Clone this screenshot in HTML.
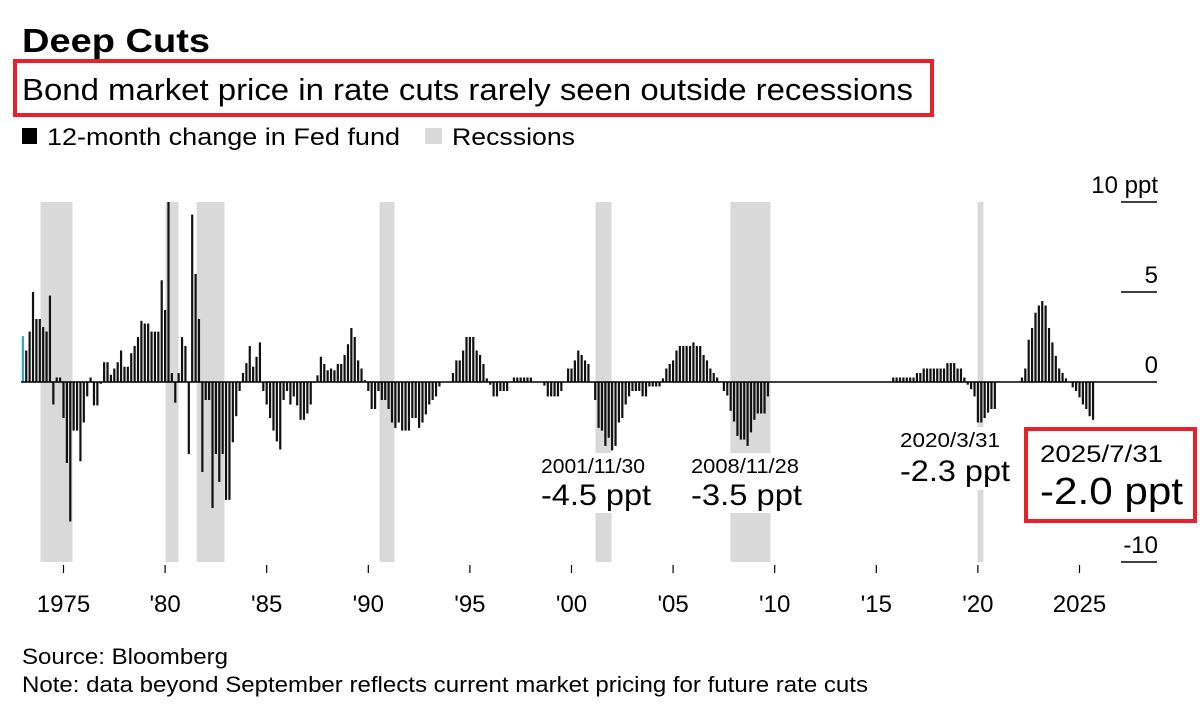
<!DOCTYPE html>
<html><head><meta charset="utf-8">
<style>
html,body{margin:0;padding:0;background:#fff;}
body{width:1200px;height:722px;overflow:hidden;font-family:"Liberation Sans",Arial,sans-serif;}
svg text{font-family:"Liberation Sans",Arial,sans-serif;}
</style></head>
<body>
<svg id="chart" width="1200" height="722" viewBox="0 0 1200 722" xmlns="http://www.w3.org/2000/svg">
  <text x="22" y="52" font-size="33" font-weight="bold" fill="#000" textLength="188" lengthAdjust="spacingAndGlyphs">Deep Cuts</text>
  <rect x="15" y="61" width="917" height="54" fill="none" stroke="#e8202a" stroke-width="4"/>
  <text x="22" y="100" font-size="31" fill="#000" textLength="891" lengthAdjust="spacingAndGlyphs">Bond market price in rate cuts rarely seen outside recessions</text>
  <g>
    <rect x="22" y="128" width="15" height="16" fill="#000"/>
    <text x="47" y="145" font-size="24" fill="#000" textLength="353" lengthAdjust="spacingAndGlyphs">12-month change in Fed fund</text>
    <rect x="425" y="128" width="17" height="16" fill="#d9d9d9"/>
    <text x="452" y="145" font-size="24" fill="#000" textLength="123" lengthAdjust="spacingAndGlyphs">Recssions</text>
  </g>
  <g id="recessions"></g>
  <g id="bars"></g>
  <g id="yaxis"></g>
  <g id="xaxis"></g>
  <g id="annotations"></g>
  <text x="22" y="664" font-size="22" fill="#000" textLength="206" lengthAdjust="spacingAndGlyphs">Source: Bloomberg</text>
  <text x="22" y="692" font-size="22" fill="#000" textLength="846" lengthAdjust="spacingAndGlyphs">Note: data beyond September reflects current market pricing for future rate cuts</text>
</svg>
<script>
// bimonthly observations starting Jan 1973
const startYear = 1973.0;
const stepYears = 1/6;
const fedChange = [
2.55,1.75,2.8,5.0,3.5,3.5,3.05,2.8,4.8,-1.25,
0.25,0.25,-2.0,-4.5,-7.75,-2.7,-2.7,-4.4,-2.25,-0.8,
0.25,-1.3,-1.3,-0.1,1.1,1.1,0.4,0.75,1.1,1.75,
0.85,0.85,1.6,2.0,2.5,3.4,3.25,3.25,2.8,2.8,
2.8,5.65,4.0,10,0.5,-1.15,0.5,2.5,2.0,-4.0,
9.3,6.0,3.5,-5.0,-1.0,-1.0,-7.0,-4.0,-5.55,-4.0,
-6.55,-6.55,-3.35,-1.9,-0.5,0.5,1.05,2.0,0.85,1.4,
2.2,-0.5,-1.25,-2.0,-2.7,-3.3,-3.75,-1.0,-0.5,-1.25,
-0.8,-1.3,-2.1,-2.1,-1.75,-1.25,
-0.05,0.37,1.4,1.0,0.65,0.75,0.65,1.0,1.0,1.5,2.1,3.0,2.5,1.2,0.75,0.1,
-0.5,-1.5,-1.5,-0.5,-1.0,-1.0,-1.5,-2.25,-2.55,-2.25,-2.7,-2.7,-2.7,-2.0,-2.0,-2.55,-2.25,-1.8,-1.25,-1.0,-0.8,-0.25,
0,0,0,0.5,1.2,1.2,1.75,2.5,2.5,2.5,1.75,1.5,1.0,0.2,
-0.15,-0.8,-0.8,-0.5,-0.5,-0.5,0,0.25,0.25,0.25,0.25,0.25,0.25,0,0,0,
-0.2,-0.8,-0.8,-0.8,-0.8,-0.5,0,0.75,0.75,1.2,1.75,1.5,1.2,1.0,0,
-1.0,-2.55,-2.7,-3.55,-3.1,-3.8,-3.55,-2.25,-2.0,-1.25,-0.8,-0.5,-0.5,-0.5,-0.8,-0.8,-0.25,-0.25,-0.25,-0.25,
0.2,0.75,1.0,1.2,1.75,2.0,2.0,2.0,2.0,2.2,2.0,2.0,
1.5,1.2,0.75,0.5,0.25,0,
-0.5,-0.75,-1.6,-2.2,-3.0,-3.2,-3.2,-3.55,-2.8,-2.1,-1.75,-1.75,-1.75,-0.8,
0,0,0,0,0,0,0,0,0,0,0,0,0,0,0,0,0,0,0,0,0,0,0,0,0,0,0,0,0,0,0,0,0,0,0,0,
0.25,0.25,0.25,0.25,0.25,0.25,0.25,
0.5,0.5,0.75,0.75,0.75,0.75,0.75,0.75,0.75,1.05,1.05,1.05,0.75,0.75,0.25,
-0.15,-0.4,-0.8,-2.25,-2.25,-2.0,-1.7,-1.5,-1.5,
0,0,0,0,0,0,0,
0.25,0.75,2.35,3.0,3.85,4.25,4.5,4.25,3.0,2.2,1.45,0.75,0.5,0.2,0,-0.3,-0.5,-0.85,-1.25,-1.5,-1.9,-2.1
];
const recessionStarts = [1973.87,1980.02,1981.55,1990.55,2001.18,2007.82,2019.98];
const recessionEnds   = [1975.44,1980.66,1982.92,1991.29,2001.97,2009.79,2020.27];
const yTickValues = [10,5,0,-10];
const yTickLabels = ["10 ppt","5","0","-10"];
const xTickYears = [1975,1980,1985,1990,1995,2000,2005,2010,2015,2020,2025];
const xTickLabels = ["1975","'80","'85","'90","'95","'00","'05","'10","'15","'20","2025"];

const NS = "http://www.w3.org/2000/svg";
const X0 = 63.5, PXY = 20.32;
function xScale(t){ return X0 + (t-1975)*PXY; }
const Y0 = 382, PPT = 18;
function yScale(v){ return Y0 - v*PPT; }
function mk(tag, attrs, parent){
  const el = document.createElementNS(NS, tag);
  for (const k in attrs) el.setAttribute(k, attrs[k]);
  parent.appendChild(el);
  return el;
}

const recG = document.getElementById('recessions');
for (let i=0;i<recessionStarts.length;i++){
  const x1 = xScale(recessionStarts[i]), x2 = xScale(recessionEnds[i]);
  const r = mk('rect',{x:x1,y:yScale(10),width:x2-x1,height:yScale(-10)-yScale(10),fill:'#d9d9d9'},recG);
  
  
}

const yG = document.getElementById('yaxis');
for (let i=0;i<yTickValues.length;i++){
  const y = yScale(yTickValues[i]);
  if (yTickValues[i] !== 0){
    const l = mk('line',{x1:1121,x2:1157,y1:y,y2:y,stroke:'#000','stroke-width':1.5},yG);
    
    
  }
  const t = mk('text',{x:1158,y:y-9,'font-size':24,'text-anchor':'end',fill:'#000'},yG);
  t.textContent = yTickLabels[i];
  
  
}

const bG = document.getElementById('bars');
for (let i=0;i<fedChange.length;i++){
  const v = Math.max(-10, Math.min(10, fedChange[i]));
  if (v === 0) continue;
  const cx = xScale(startYear + i*stepYears);
  const y1 = yScale(Math.max(v,0)), y2 = yScale(Math.min(v,0));
  const r = mk('rect',{x:cx-1.1,y:y1,width:2.2,height:y2-y1,fill:i===0?'#2aa6dc':'#111'},bG);
  
  
}
const zl = mk('line',{x1:21,x2:1157,y1:Y0,y2:Y0,stroke:'#000','stroke-width':1.5},yG);



const xG = document.getElementById('xaxis');
for (let i=0;i<xTickYears.length;i++){
  const x = xScale(xTickYears[i]);
  const l = mk('line',{x1:x,x2:x,y1:565,y2:573,stroke:'#000','stroke-width':1.2},xG);
  
  
  const t = mk('text',{x:x,y:612,'font-size':24,'text-anchor':'middle',fill:'#000'},xG);
  t.textContent = xTickLabels[i];
  
  
}

const aG = document.getElementById('annotations');
function note(bx,by,bw,bh,tx,d,val,fs1,fs2,w1,w2,y1,y2,name){
  const bg = mk('rect',{x:bx,y:by,width:bw,height:bh,fill:'#fff'},aG);
  
  
  const t1 = mk('text',{x:tx,y:y1,'font-size':fs1,fill:'#000',textLength:w1,lengthAdjust:'spacingAndGlyphs'},aG);
  t1.textContent = d;
  
  
  const t2 = mk('text',{x:tx,y:y2,'font-size':fs2,fill:'#000',textLength:w2,lengthAdjust:'spacingAndGlyphs'},aG);
  t2.textContent = val;
  
  
}
note(536,453,122,60,541,'2001/11/30','-4.5 ppt',20,30,104,110,473,505,'annotation-2001');
note(686,453,122,60,691,'2008/11/28','-3.5 ppt',20,30,108,111,473,505,'annotation-2008');
note(895,427,122,63,900,'2020/3/31','-2.3 ppt',20,30,100,110,447,481,'annotation-2020');
note(1026,429,169,92,1040,'2025/7/31','-2.0 ppt',24,38,123,143,462,504,'annotation-2025');
const rb = mk('rect',{x:1026,y:429,width:169,height:92,fill:'none',stroke:'#e8202a','stroke-width':4},aG);


</script>
</body></html>
